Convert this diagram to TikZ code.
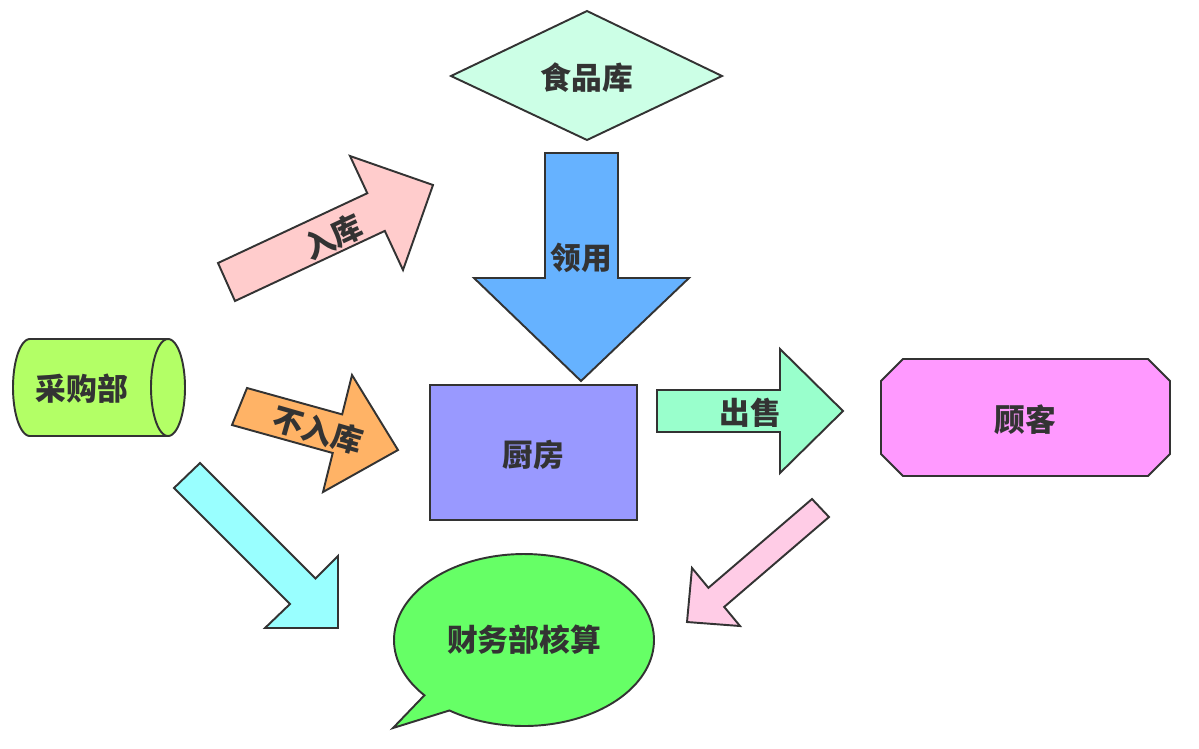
\documentclass[tikz,border=0pt]{standalone}
\usepackage{fontspec}
\newfontfamily\cjk{Noto Sans CJK SC}
\begin{document}
\begin{tikzpicture}[x=0.02cm,y=-0.02cm,
  shp/.style={draw=black!80,line width=1.1pt,line join=miter},
  lbl/.style={font=\cjk\bfseries\fontsize{17.5}{19}\selectfont,text=black!80,inner sep=0pt}]
\definecolor{cdia}{HTML}{CCFFE6}
\definecolor{cblue}{HTML}{66B2FF}
\definecolor{cpink}{HTML}{FFCCCC}
\definecolor{corg}{HTML}{FFB366}
\definecolor{clime}{HTML}{B3FF66}
\definecolor{ccyan}{HTML}{99FFFF}
\definecolor{ckit}{HTML}{9999FF}
\definecolor{cmint}{HTML}{99FFCC}
\definecolor{cmag}{HTML}{FF99FF}
\definecolor{cpk2}{HTML}{FFCCE6}
\definecolor{cgrn}{HTML}{66FF66}
\useasboundingbox (0,0) rectangle (1199,748);
% diamond
\draw[shp,fill=cdia] (451,76) -- (587,11) -- (722,76) -- (587,140) -- cycle;
\node[lbl] (shk) at (587,78) {食品库};
% blue down arrow
\draw[shp,fill=cblue] (545,153) -- (618,153) -- (618,278) -- (689,278) -- (581,381) -- (474,278) -- (545,278) -- cycle;
\node[lbl] (ly) at (581,258) {领用};
% pink arrow
\draw[shp,fill=cpink] (235,301) -- (218,263) -- (367.3,193.2) -- (350,156) -- (433,185) -- (403,270) -- (384.8,230.9) -- cycle;
\node[lbl,rotate=25] (rk) at (333,237) {入库};
% orange arrow
\draw[shp,fill=corg] (232,425) -- (247,388) -- (342.2,414.4) -- (352,375) -- (398,450) -- (323,492) -- (332.7,453) -- cycle;
\node[lbl,rotate=-16] (brk) at (318,430) {不入库};
% cylinder
\draw[shp,fill=clime] (168,339) -- (30,339) -- plot[domain=-90:90,samples=60] ({30-17*cos(\x)},{387.5+48.5*sin(\x)}) -- (168,436) -- cycle;
\draw[shp,fill=clime] plot[domain=0:360,samples=80] ({168+17*cos(\x)},{387.5+48.5*sin(\x)}) -- cycle;
\node[lbl] (cgb) at (82,389) {采购部};
% cyan arrow
\draw[shp,fill=ccyan] (174,488) -- (200,463) -- (315.5,578.5) -- (338,556) -- (338,628) -- (265,628) -- (290,604) -- cycle;
% kitchen
\draw[shp,fill=ckit] (430,385) rectangle (637,520);
\node[lbl] (cf) at (533,455) {厨房};
% right arrow
\draw[shp,fill=cmint] (657,390) -- (780,390) -- (780,349) -- (843,411) -- (780,473) -- (780,432) -- (657,432) -- cycle;
\node[lbl] (cs) at (750,413) {出售};
% octagon
\draw[shp,fill=cmag] (903,359) -- (1148,359) -- (1170,381) -- (1170,454) -- (1148,476) -- (903,476) -- (881,454) -- (881,381) -- cycle;
\node[lbl] (gk) at (1025,420) {顾客};
% pink down-left arrow
\draw[shp,fill=cpk2] (812,499) -- (829,517) -- (724.2,606.9) -- (740,626) -- (687,622) -- (692,568) -- (708.4,587.8) -- cycle;
% speech bubble
\draw[shp,fill=cgrn] (393,728) -- plot[domain=140:485,samples=150] ({524+130*cos(\x)},{640+86*sin(\x)}) -- cycle;
\node[lbl] (cw) at (524,640) {财务部核算};
\end{tikzpicture}
\end{document}
